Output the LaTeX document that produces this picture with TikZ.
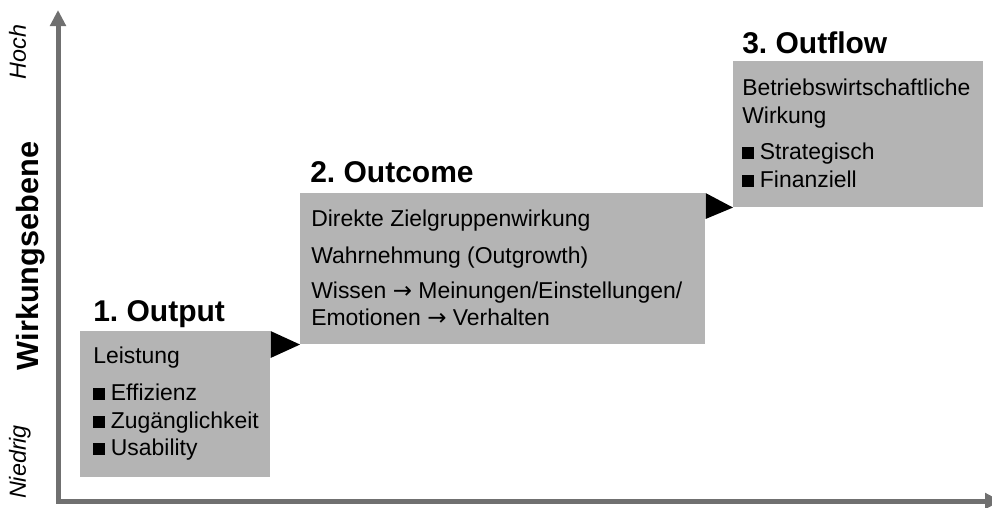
\documentclass[tikz,border=0pt]{standalone}
\usepackage{fontspec}
\setmainfont{Liberation Sans}
\newfontfamily\arrowfont{DejaVu Sans}
\usetikzlibrary{arrows.meta,calc}
\definecolor{boxgray}{HTML}{B4B4B4}
\definecolor{axisgray}{HTML}{707070}
\newcommand{\sqbul}{\rule{0.52em}{0.52em}\hspace{0.25em}}
\newcommand{\rarr}{{\arrowfont\char"2192}}
\frenchspacing
\begin{document}
\begin{tikzpicture}[x=0.75pt,y=-0.75pt,
  panel/.style={fill=boxgray,draw=none,inner sep=0pt,anchor=north west},
  bodytxt/.style={anchor=base west,inner sep=0pt,font=\fontsize{17.2}{20}\selectfont},
  headtxt/.style={anchor=base west,inner sep=0pt,font=\fontsize{22.5}{26}\selectfont\bfseries},
  sidetxt/.style={anchor=base,inner sep=0pt,rotate=90,font=\fontsize{17.5}{20}\selectfont\itshape},
  axistxt/.style={anchor=base,inner sep=0pt,rotate=90,font=\fontsize{23}{26}\selectfont\bfseries},
  stepmark/.style={fill=black,draw=none},
  axisline/.style={draw=axisgray,line width=3.75pt,
    {Triangle[width=11.5pt,length=12pt]}-{Triangle[width=11.5pt,length=12pt]}}]
\clip (0,0) rectangle (992,507);

% axes
\coordinate (ytip) at (58,10);
\coordinate (origin) at (58,501);
\coordinate (xtip) at (1001,501);
\draw[axisline] (ytip) -- (origin) -- (xtip);

% axis labels
\node[sidetxt] (hoch) at (26,52) {Hoch};
\node[sidetxt] (niedrig) at (26,462) {Niedrig};
\node[axistxt] (ebene) at (38,256) {Wirkungsebene};

% panels
\node[panel,minimum width=190*0.75pt,minimum height=146*0.75pt] (b1) at (80,331) {};
\node[panel,minimum width=405*0.75pt,minimum height=151*0.75pt] (b2) at (300,193) {};
\node[panel,minimum width=250*0.75pt,minimum height=146*0.75pt] (b3) at (733,61) {};

% step markers between panels
\fill[stepmark] (b1.north east) -- ($(b1.north east)+(0,27)$) -- (b2.south west) -- cycle;
\fill[stepmark] (b2.north east) -- ($(b2.north east)+(0,26)$) -- (b3.south west) -- cycle;

% 1. Output
\node[headtxt] (t1) at (93,321) {1. Output};
\node[bodytxt] (l11) at (93,363) {Leistung};
\node[bodytxt] (l12) at (93,400) {\sqbul Effizienz};
\node[bodytxt] (l13) at (93,428) {\sqbul Zugänglichkeit};
\node[bodytxt] (l14) at (93,455) {\sqbul Usability};

% 2. Outcome
\node[headtxt] (t2) at (310,182) {2. Outcome};
\node[bodytxt] (l21) at (311,226) {Direkte Zielgruppenwirkung};
\node[bodytxt] (l22) at (311,263) {Wahrnehmung (Outgrowth)};
\node[bodytxt] (l23) at (311,298) {Wissen \rarr{} Meinungen/Einstellungen/};
\node[bodytxt] (l24) at (311,325) {Emotionen \rarr{} Verhalten};

% 3. Outflow
\node[headtxt] (t3) at (742,53) {3. Outflow};
\node[bodytxt] (l31) at (742,95) {Betriebswirtschaftliche};
\node[bodytxt] (l32) at (742,123) {Wirkung};
\node[bodytxt] (l33) at (742,159) {\sqbul Strategisch};
\node[bodytxt] (l34) at (742,187) {\sqbul Finanziell};
\end{tikzpicture}
\end{document}
